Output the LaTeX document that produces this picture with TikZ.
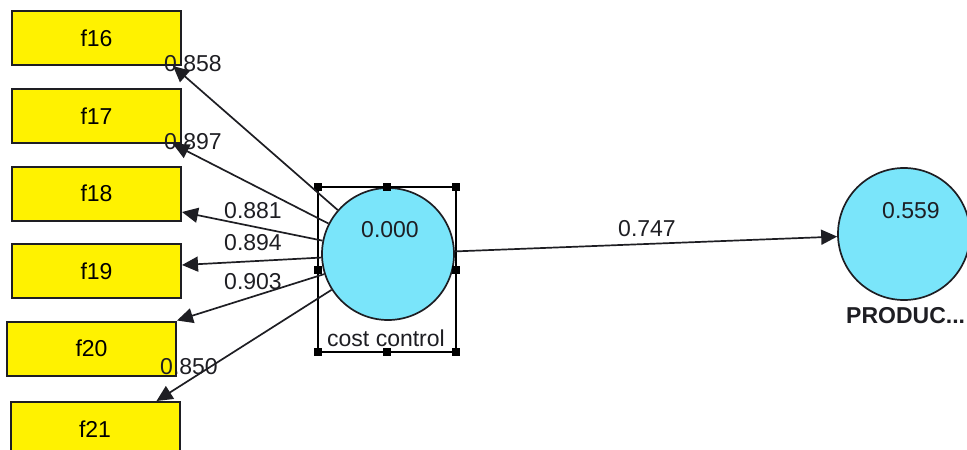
\documentclass[tikz,border=0pt]{standalone}
\usepackage{fontspec}
\setmainfont{Liberation Sans}
\usetikzlibrary{arrows.meta}
\definecolor{cyanfill}{RGB}{122,229,250}
\definecolor{ink}{RGB}{30,30,35}
\begin{document}
\begin{tikzpicture}[x=1pt,y=-1pt,
  ind/.style={draw=ink, line width=2pt, fill=yellow, minimum width=169pt, minimum height=54pt, inner sep=0pt, font=\fontsize{23}{25}\selectfont},
  lat/.style={circle, draw=ink, line width=1.7pt, fill=cyanfill, minimum size=132pt, inner sep=0pt},
  lbl/.style={font=\fontsize{23}{25}\selectfont, text=ink, inner sep=0pt},
  arr/.style={-{Triangle[length=16pt,width=15pt]}, line width=1.7pt, draw=ink},
  hnd/.style={fill=black, minimum size=8pt, inner sep=0pt}]
\useasboundingbox (0,0) rectangle (967,450);
% indicators
\node[ind] (f16) at (96.5,38) {f16};
\node[ind] (f17) at (96.5,116) {f17};
\node[ind] (f18) at (96.5,193.5) {f18};
\node[ind] (f19) at (96.5,271) {f19};
\node[ind] (f20) at (91.5,348.5) {f20};
\node[ind] (f21) at (95,429) {f21};
% latent variables
\node[lat] (cc) at (388,254) {};
\node[lat] (prod) at (904,234) {};
\node[lbl] (ccv) at (390,230) {0.000};
\node[lbl] (prodv) at (911,211) {0.559};
\node[lbl] (ccn) at (386,338) {cost control};
\node[lbl, font=\bfseries\fontsize{23}{25}\selectfont, anchor=west] (prodn) at (846,316) {PRODUC...};
% selection frame
\draw[line width=1.3pt, black] (318,187) rectangle (456,352);
\foreach \p in {(318,187),(387,187),(456,187),(318,270),(456,270),(318,352),(387,352),(456,352)}
  \node[hnd] at \p {};
% tip points
\coordinate (t16) at ([xshift=-9pt]f16.south east);
\coordinate (t17) at ([xshift=-9pt]f17.south east);
\coordinate (t18) at ([yshift=-18.5pt]f18.east);
\coordinate (t19) at ([yshift=6pt]f19.east);
\coordinate (t20) at (f20.north east);
\coordinate (t21) at ([xshift=-24pt]f21.north east);
% arrows
\draw[arr] (cc) -- (t16);
\draw[arr] (cc) -- (t17);
\draw[arr] (cc) -- (t18);
\draw[arr] (cc) -- (t19);
\draw[arr] (cc) -- (t20);
\draw[arr] (cc) -- (t21);
\draw[arr] (cc) -- (prod);
% loadings
\node[lbl] (l16) at (193,64) {0.858};
\node[lbl] (l17) at (193,142) {0.897};
\node[lbl] (l18) at (253,211) {0.881};
\node[lbl] (l19) at (253,243) {0.894};
\node[lbl] (l20) at (253,282) {0.903};
\node[lbl] (l21) at (189,367) {0.850};
\node[lbl] (lp) at (647,229) {0.747};
\end{tikzpicture}
\end{document}
